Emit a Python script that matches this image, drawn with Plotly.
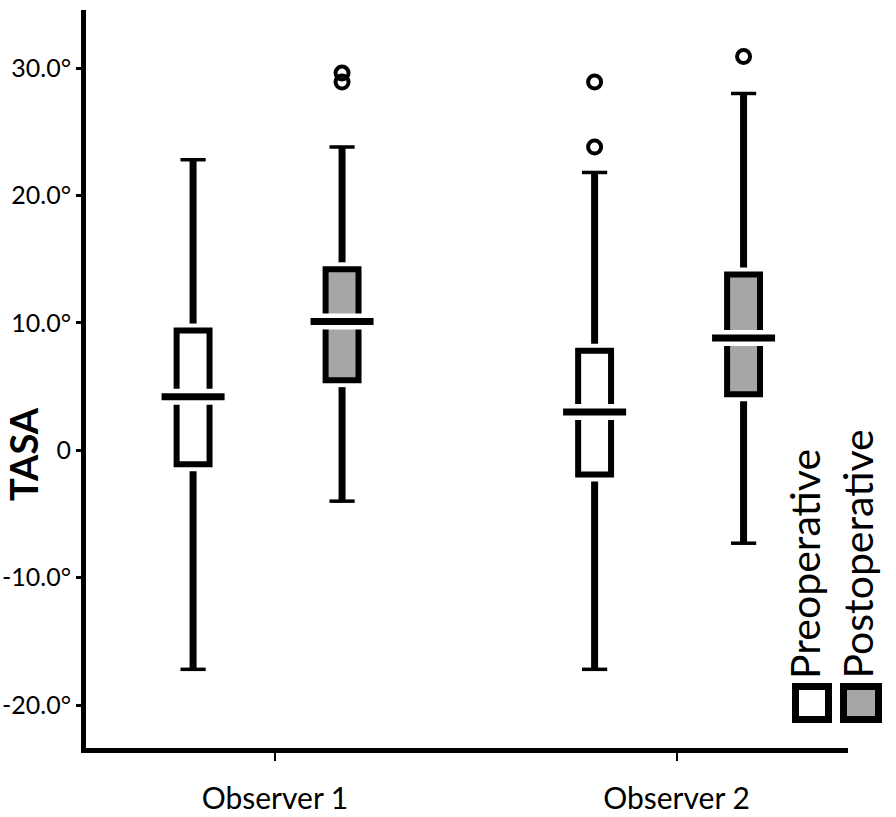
import plotly.graph_objects as go

# ---------------- data ----------------
categories = ["Observer 1", "Observer 2"]
series_names = ["Preoperative", "Postoperative"]
y_title = "TASA"

pre_low = [-17.2, -17.2]
pre_q1 = [-1.1, -1.9]
pre_median = [4.2, 3.0]
pre_q3 = [9.4, 7.8]
pre_high = [22.8, 21.8]
pre_outliers = {"Observer 1": [], "Observer 2": [23.8, 28.9]}

post_low = [-4.0, -7.3]
post_q1 = [5.5, 4.4]
post_median = [10.1, 8.8]
post_q3 = [14.2, 13.8]
post_high = [23.8, 28.0]
post_outliers = {"Observer 1": [28.9, 29.6], "Observer 2": [30.9]}

y_tickvals = [-20, -10, 0, 10, 20, 30]
y_ticktext = ["-20.0°", "-10.0°", "0", "10.0°", "20.0°", "30.0°"]

# ---------------- style ----------------
FONT = "Lato, 'Noto Sans', sans-serif"
GRAY = "#a6a6a6"
OFF_PRE, OFF_POST = -0.204, 0.167
BOXW = 0.082
LW = 6
X_RANGE = [-0.4707, 1.4271]
Y_RANGE = [-23.375, 34.553]

L, R, T, B = 86, 48, 10, 69
W, H = 896, 817
pw, ph = W - L - R, H - T - B
PX_PER_UNIT = ph / (Y_RANGE[1] - Y_RANGE[0])
GAP = (LW / 2 + 4) / PX_PER_UNIT   # small white gap between whisker and box

fig = go.Figure()

specs = [
    (series_names[0], OFF_PRE, pre_low, pre_q1, pre_median, pre_q3, pre_high, pre_outliers, "white"),
    (series_names[1], OFF_POST, post_low, post_q1, post_median, post_q3, post_high, post_outliers, GRAY),
]

for name, off, lo, q1, med, q3, hi, outl, fill in specs:
    xs = [i + off for i in range(len(categories))]
    # whiskers
    wx, wy = [], []
    for x, a, b, c, d in zip(xs, lo, q1, q3, hi):
        wx += [x, x, None, x, x, None]
        wy += [d, c + GAP, None, b - GAP, a, None]
    fig.add_trace(go.Scatter(
        x=wx, y=wy, mode="lines", showlegend=False, hoverinfo="skip",
        line=dict(color="black", width=7),
    ))
    # whisker caps
    fig.add_trace(go.Scatter(
        x=xs + xs, y=lo + hi, mode="markers", showlegend=False, hoverinfo="skip",
        marker=dict(symbol="line-ew", size=18, line=dict(color="black", width=3.5)),
    ))
    # boxes
    fig.add_trace(go.Box(
        name=name, x=xs, q1=q1, median=med, q3=q3,
        lowerfence=q1, upperfence=q3, width=BOXW, whiskerwidth=0,
        fillcolor=fill, line=dict(color="black", width=LW),
        boxpoints=False, showlegend=False, hoverinfo="skip",
    ))
    # median: white gap then black bar
    fig.add_trace(go.Scatter(
        x=xs, y=med, mode="markers", showlegend=False, hoverinfo="skip",
        marker=dict(symbol="line-ew", size=44, line=dict(color="white", width=16)),
    ))
    fig.add_trace(go.Scatter(
        x=xs, y=med, mode="markers", showlegend=False, hoverinfo="skip",
        marker=dict(symbol="line-ew", size=45, line=dict(color="black", width=7)),
    ))
    # outliers
    ox, oy = [], []
    for i, c in enumerate(categories):
        for v in outl[c]:
            ox.append(i + off)
            oy.append(v)
    fig.add_trace(go.Scatter(
        x=ox, y=oy, mode="markers", showlegend=False, hoverinfo="skip",
        marker=dict(symbol="circle-open", size=13, color="black",
                    line=dict(color="black", width=4)),
    ))

# ---------------- layout helpers ----------------
def px(xp):
    return (xp - L) / pw

def py(yp):
    return (H - B - yp) / ph

# y-axis title
fig.add_annotation(text="<b>" + y_title + "</b>", textangle=-90, xref="paper", yref="paper",
                   x=px(23), y=py(454), xanchor="center", yanchor="middle",
                   showarrow=False, font=dict(family=FONT, size=38, color="black"))

# legend (rotated text + squares)
fig.add_annotation(text=series_names[0], textangle=-90, xref="paper", yref="paper",
                   x=px(804), y=py(681), xanchor="center", yanchor="bottom",
                   showarrow=False, font=dict(family=FONT, size=41, color="black"))
fig.add_annotation(text=series_names[1], textangle=-90, xref="paper", yref="paper",
                   x=px(857), y=py(681), xanchor="center", yanchor="bottom",
                   showarrow=False, font=dict(family=FONT, size=41, color="black"))
fig.add_shape(type="rect", xref="paper", yref="paper",
              x0=px(795.5), x1=px(828.5), y0=py(719.5), y1=py(686.5),
              line=dict(color="black", width=7), fillcolor="white")
fig.add_shape(type="rect", xref="paper", yref="paper",
              x0=px(843.5), x1=px(878.5), y0=py(719.5), y1=py(686.5),
              line=dict(color="black", width=7), fillcolor=GRAY)

fig.update_layout(
    width=W, height=H,
    margin=dict(l=L, r=R, t=T, b=B, autoexpand=False),
    paper_bgcolor="white", plot_bgcolor="white",
    font=dict(family=FONT, color="black"),
    showlegend=False,
    xaxis=dict(
        range=X_RANGE, tickvals=list(range(len(categories))), ticktext=categories,
        showgrid=False, zeroline=False, showline=True, linecolor="black", linewidth=5,
        ticks="outside", ticklen=8, tickwidth=2, tickcolor="black",
        ticklabelstandoff=12, automargin=False,
        tickfont=dict(family=FONT, size=30, color="black"),
    ),
    yaxis=dict(
        range=Y_RANGE, tickvals=y_tickvals, ticktext=y_ticktext,
        showgrid=False, zeroline=False, showline=True, linecolor="black", linewidth=5,
        ticks="outside", ticklen=5, tickwidth=3, tickcolor="black",
        automargin=False,
        tickfont=dict(family=FONT, size=25, color="black"),
    ),
)

fig.write_html("out.html", config={"displayModeBar": False, "staticPlot": True},
               post_script="document.body.style.margin='0';document.body.style.overflow='hidden';")
